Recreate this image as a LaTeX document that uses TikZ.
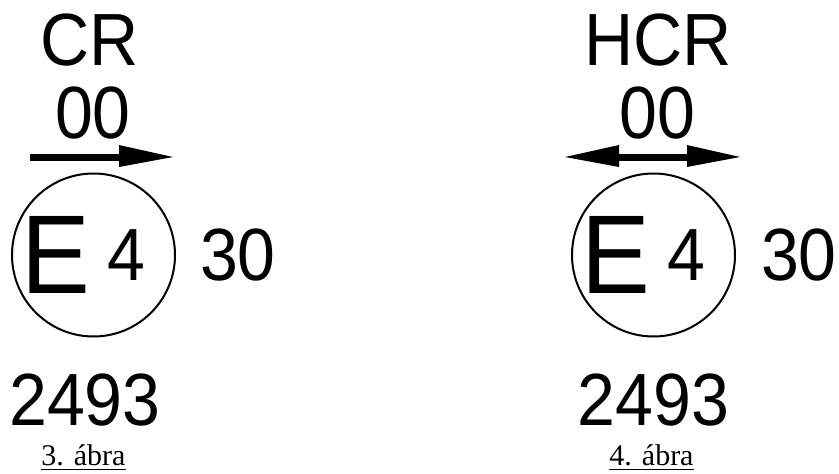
\documentclass[tikz,border=0pt]{standalone}
\usepackage{fontspec}
\setmainfont{Liberation Sans}
\newfontfamily\capfont{Liberation Serif}
\newcommand{\cond}[1]{\scalebox{0.92}[1]{#1}}
\begin{document}
\begin{tikzpicture}[x=1pt,y=-1pt,
  big/.style={inner sep=0pt, anchor=base, font=\fontsize{74}{74}\selectfont},
  huge/.style={inner sep=0pt, anchor=base, font=\fontsize{112}{112}\selectfont},
  capt/.style={inner sep=0pt, anchor=base, font=\capfont\fontsize{30}{30}\selectfont},
  ring/.style={line width=2pt},
  uline/.style={line width=1.6pt},
  solid arrow/.style={fill=black}]
\useasboundingbox[fill=white] (0,0) rectangle (839,474);
% ---------- left mark ----------
\node[big] (crL) at (90,65) {\cond{CR}};
\node[big] (zzL) at (93,138) {\cond{00}};
\fill[solid arrow] (30,153.5) rectangle (120,160.5);
\fill[solid arrow] (119,145) -- (173,157) -- (119,167) -- cycle;
\draw[ring] (93.5,255) circle[radius=81.5];
\node[huge] (eL) at (56,293) {\cond{E}};
\node[big] (fourL) at (126,280) {\cond{4}};
\node[big] (thirtyL) at (238,280) {\cond{30}};
\node[big] (numL) at (85,425) {\cond{2493}};
\node[capt] (capL) at (83.5,465) {3. ábra};
\draw[uline] ([yshift=-4.5pt]capL.base west) -- ([yshift=-4.5pt]capL.base east);
% ---------- right mark ----------
\node[big] (crR) at (658,65) {\cond{HCR}};
\node[big] (zzR) at (657.5,138) {\cond{00}};
\fill[solid arrow] (617,153.5) rectangle (689,160.5);
\fill[solid arrow] (619,145) -- (565,157) -- (619,167) -- cycle;
\fill[solid arrow] (687,145) -- (740,157) -- (687,167) -- cycle;
\draw[ring] (653.5,255) circle[radius=81.5];
\node[huge] (eR) at (616,293) {\cond{E}};
\node[big] (fourR) at (686,280) {\cond{4}};
\node[big] (thirtyR) at (799,280) {\cond{30}};
\node[big] (numR) at (653.5,425) {\cond{2493}};
\node[capt] (capR) at (651.5,465) {4. ábra};
\draw[uline] ([yshift=-4.5pt]capR.base west) -- ([yshift=-4.5pt]capR.base east);
\end{tikzpicture}
\end{document}
